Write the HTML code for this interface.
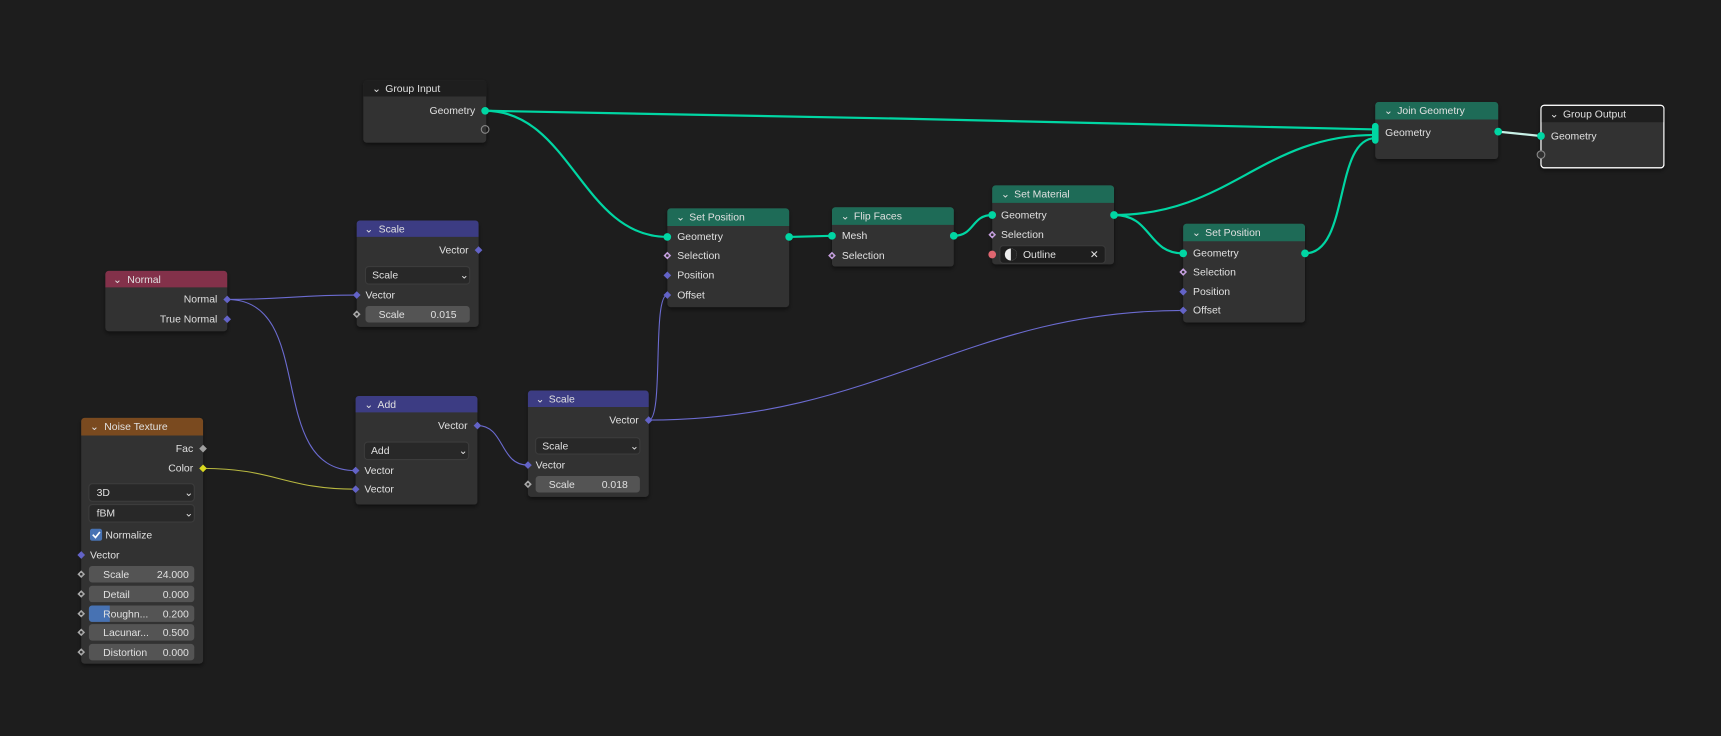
<!DOCTYPE html>
<html><head><meta charset="utf-8"><style>
html,body{margin:0;padding:0;background:#1d1d1d;overflow:hidden}
svg{display:block}
text{font-family:"Liberation Sans",sans-serif;font-size:9.5px;fill:#e0e0e0}
</style></head><body>
<svg width="1721" height="736" viewBox="0 0 1568 671" preserveAspectRatio="none" xmlns="http://www.w3.org/2000/svg">
<rect width="1568" height="671" fill="#1d1d1d"/>
<defs>
<filter id="sh" x="-10%" y="-10%" width="130%" height="130%"><feDropShadow dx="0" dy="2" stdDeviation="2" flood-color="#000" flood-opacity="0.5"/></filter>
</defs>

<!-- links -->
<g fill="none" stroke-width="2">
<path d="M442 101 C700 105,1000 112,1253 118" stroke="#00d6a3"/>
<path d="M442 101 C520 101,530 216,608 216" stroke="#00d6a3"/>
<path d="M719 216 L758 215" stroke="#00d6a3"/>
<path d="M869 215 C888 215,885 196,904 196" stroke="#00d6a3"/>
<path d="M1015 196 C1120 196,1150 123,1253 123" stroke="#00d6a3"/>
<path d="M1015 196 C1050 196,1045 231,1078 231" stroke="#00d6a3"/>
<path d="M1189 231 C1230 231,1215 126,1253 126" stroke="#00d6a3"/>
<path d="M1365 120 L1404 124" stroke="#c8f0e6"/>
</g>
<g fill="none" stroke-width="1">
<path d="M207 273 C260 273,270 269,325 269" stroke="#6b6bd0"/>
<path d="M207 273 C290 273,240 429,324 429" stroke="#6b6bd0"/>
<path d="M185 427 C250 427,260 446,324 446" stroke="#b8b840"/>
<path d="M435 388 C460 388,455 424,481 424" stroke="#6b6bd0"/>
<path d="M591 383 C605 383,594 269,608 269" stroke="#6b6bd0"/>
<path d="M591 383 C800 383,880 283,1078 283" stroke="#6b6bd0"/>
</g>

<!-- Group Input -->
<g filter="url(#sh)"><rect x="331" y="73" width="112" height="57" rx="3" fill="#303030"/></g>
<path d="M334 73 h106 a3 3 0 0 1 3 3 v12 h-112 v-12 a3 3 0 0 1 3 -3z" fill="#1e1e1e"/>
<text x="339" y="84">⌄</text><text x="351" y="84">Group Input</text>
<text x="433" y="104" text-anchor="end">Geometry</text>
<circle cx="442" cy="101" r="3.5" fill="#00d6a3"/>
<circle cx="442" cy="118" r="3.5" fill="none" stroke="#888" stroke-width="1"/>

<!-- Join Geometry -->
<g filter="url(#sh)"><rect x="1253" y="93" width="112" height="52" rx="3" fill="#303030"/></g>
<path d="M1256 93 h106 a3 3 0 0 1 3 3 v13 h-112 v-13 a3 3 0 0 1 3 -3z" fill="#1e6b57"/>
<text x="1261" y="104">⌄</text><text x="1273" y="104">Join Geometry</text>
<text x="1262" y="124">Geometry</text>
<rect x="1250" y="112" width="6" height="19" rx="3" fill="#00d6a3"/>
<circle cx="1365" cy="120" r="3.5" fill="#00d6a3"/>

<!-- Group Output -->
<g filter="url(#sh)"><rect x="1404" y="96" width="112" height="57" rx="3" fill="#303030" stroke="#fff" stroke-width="1"/></g>
<path d="M1407 96.5 h106 a3 3 0 0 1 3 3 v12 h-112 v-12 a3 3 0 0 1 3 -3z" fill="#1e1e1e"/>
<rect x="1404" y="96" width="112" height="57" rx="3" fill="none" stroke="#fff" stroke-width="1"/>
<text x="1412" y="107">⌄</text><text x="1424" y="107">Group Output</text>
<text x="1413" y="127">Geometry</text>
<circle cx="1404" cy="124" r="3.5" fill="#00d6a3"/>
<circle cx="1404" cy="141" r="3.5" fill="#303030" stroke="#888" stroke-width="1"/>

<!-- Set Position 1 -->
<g filter="url(#sh)"><rect x="608" y="190" width="111" height="90" rx="3" fill="#303030"/></g>
<path d="M611 190 h105 a3 3 0 0 1 3 3 v13 h-111 v-13 a3 3 0 0 1 3 -3z" fill="#1e6b57"/>
<text x="616" y="201">⌄</text><text x="628" y="201">Set Position</text>
<text x="617" y="219">Geometry</text><text x="617" y="236">Selection</text><text x="617" y="254">Position</text><text x="617" y="272">Offset</text>
<circle cx="608" cy="216" r="3.5" fill="#00d6a3"/><circle cx="719" cy="216" r="3.5" fill="#00d6a3"/>
<path d="M608 229.5l3.5 3.5-3.5 3.5-3.5-3.5z" fill="#c6a0e0"/><circle cx="608" cy="233" r="1.2" fill="#303030"/>
<path d="M608 247.5l3.5 3.5-3.5 3.5-3.5-3.5z" fill="#6363c7"/>
<path d="M608 265.5l3.5 3.5-3.5 3.5-3.5-3.5z" fill="#6363c7"/>

<!-- Flip Faces -->
<g filter="url(#sh)"><rect x="758" y="189" width="111" height="54" rx="3" fill="#303030"/></g>
<path d="M761 189 h105 a3 3 0 0 1 3 3 v13 h-111 v-13 a3 3 0 0 1 3 -3z" fill="#1e6b57"/>
<text x="766" y="200">⌄</text><text x="778" y="200">Flip Faces</text>
<text x="767" y="218">Mesh</text><text x="767" y="236">Selection</text>
<circle cx="758" cy="215" r="3.5" fill="#00d6a3"/><circle cx="869" cy="215" r="3.5" fill="#00d6a3"/>
<path d="M758 229.5l3.5 3.5-3.5 3.5-3.5-3.5z" fill="#c6a0e0"/><circle cx="758" cy="233" r="1.2" fill="#303030"/>

<!-- Set Material -->
<g filter="url(#sh)"><rect x="904" y="169" width="111" height="72" rx="3" fill="#303030"/></g>
<path d="M907 169 h105 a3 3 0 0 1 3 3 v13 h-111 v-13 a3 3 0 0 1 3 -3z" fill="#1e6b57"/>
<text x="912" y="180">⌄</text><text x="924" y="180">Set Material</text>
<text x="912" y="199">Geometry</text><text x="912" y="217">Selection</text>
<circle cx="904" cy="196" r="3.5" fill="#00d6a3"/><circle cx="1015" cy="196" r="3.5" fill="#00d6a3"/>
<path d="M904 210.5l3.5 3.5-3.5 3.5-3.5-3.5z" fill="#c6a0e0"/><circle cx="904" cy="214" r="1.2" fill="#303030"/>
<circle cx="904" cy="232" r="3.5" fill="#e06670"/>
<rect x="911" y="224" width="96" height="16" rx="3" fill="#1e1e1e" stroke="#3a3a3a"/>
<circle cx="921" cy="232" r="5.5" fill="#eee"/><path d="M921 226.5 a5.5 5.5 0 0 1 0 11z" fill="#222"/>
<text x="932" y="235">Outline</text><text x="993" y="235" fill="#bbb">✕</text>

<!-- Set Position 2 -->
<g filter="url(#sh)"><rect x="1078" y="204" width="111" height="90" rx="3" fill="#303030"/></g>
<path d="M1081 204 h105 a3 3 0 0 1 3 3 v13 h-111 v-13 a3 3 0 0 1 3 -3z" fill="#1e6b57"/>
<text x="1086" y="215">⌄</text><text x="1098" y="215">Set Position</text>
<text x="1087" y="234">Geometry</text><text x="1087" y="251">Selection</text><text x="1087" y="269">Position</text><text x="1087" y="286">Offset</text>
<circle cx="1078" cy="231" r="3.5" fill="#00d6a3"/><circle cx="1189" cy="231" r="3.5" fill="#00d6a3"/>
<path d="M1078 244.5l3.5 3.5-3.5 3.5-3.5-3.5z" fill="#c6a0e0"/><circle cx="1078" cy="248" r="1.2" fill="#303030"/>
<path d="M1078 262.5l3.5 3.5-3.5 3.5-3.5-3.5z" fill="#6363c7"/>
<path d="M1078 279.5l3.5 3.5-3.5 3.5-3.5-3.5z" fill="#6363c7"/>

<!-- Scale top -->
<g filter="url(#sh)"><rect x="325" y="201" width="111" height="97" rx="3" fill="#303030"/></g>
<path d="M328 201 h105 a3 3 0 0 1 3 3 v12 h-111 v-12 a3 3 0 0 1 3 -3z" fill="#3c3c83"/>
<text x="332" y="212">⌄</text><text x="345" y="212">Scale</text>
<text x="427" y="231" text-anchor="end">Vector</text>
<path d="M436 224.5l3.5 3.5-3.5 3.5-3.5-3.5z" fill="#6363c7"/>
<rect x="333" y="243" width="95" height="16" rx="3" fill="#282828" stroke="#3c3c3c"/>
<text x="339" y="254">Scale</text><text x="419" y="254">⌄</text>
<text x="333" y="272">Vector</text>
<path d="M325 265.5l3.5 3.5-3.5 3.5-3.5-3.5z" fill="#6363c7"/>
<rect x="333" y="279" width="95" height="15" rx="3" fill="#545454"/>
<text x="345" y="290">Scale</text><text x="416" y="290" text-anchor="end">0.015</text>
<path d="M325 283l3.5 3.5-3.5 3.5-3.5-3.5z" fill="#aaa"/><circle cx="325" cy="286.5" r="1.2" fill="#303030"/>

<!-- Normal -->
<g filter="url(#sh)"><rect x="96" y="247" width="111" height="55" rx="3" fill="#303030"/></g>
<path d="M99 247 h105 a3 3 0 0 1 3 3 v12 h-111 v-12 a3 3 0 0 1 3 -3z" fill="#83314a"/>
<text x="103" y="258">⌄</text><text x="116" y="258">Normal</text>
<text x="198" y="276" text-anchor="end">Normal</text><text x="198" y="294" text-anchor="end">True Normal</text>
<path d="M207 269.5l3.5 3.5-3.5 3.5-3.5-3.5z" fill="#6363c7"/>
<path d="M207 287.5l3.5 3.5-3.5 3.5-3.5-3.5z" fill="#6363c7"/>

<!-- Add -->
<g filter="url(#sh)"><rect x="324" y="361" width="111" height="99" rx="3" fill="#303030"/></g>
<path d="M327 361 h105 a3 3 0 0 1 3 3 v12 h-111 v-12 a3 3 0 0 1 3 -3z" fill="#3c3c83"/>
<text x="332" y="372">⌄</text><text x="344" y="372">Add</text>
<text x="426" y="391" text-anchor="end">Vector</text>
<path d="M435 384.5l3.5 3.5-3.5 3.5-3.5-3.5z" fill="#6363c7"/>
<rect x="332" y="403" width="95" height="16" rx="3" fill="#282828" stroke="#3c3c3c"/>
<text x="338" y="414">Add</text><text x="418" y="414">⌄</text>
<text x="332" y="432">Vector</text><text x="332" y="449">Vector</text>
<path d="M324 425.5l3.5 3.5-3.5 3.5-3.5-3.5z" fill="#6363c7"/>
<path d="M324 442.5l3.5 3.5-3.5 3.5-3.5-3.5z" fill="#6363c7"/>

<!-- Scale 2 -->
<g filter="url(#sh)"><rect x="481" y="356" width="110" height="97" rx="3" fill="#303030"/></g>
<path d="M484 356 h104 a3 3 0 0 1 3 3 v12 h-110 v-12 a3 3 0 0 1 3 -3z" fill="#3c3c83"/>
<text x="488" y="367">⌄</text><text x="500" y="367">Scale</text>
<text x="582" y="386" text-anchor="end">Vector</text>
<path d="M591 379.5l3.5 3.5-3.5 3.5-3.5-3.5z" fill="#6363c7"/>
<rect x="488" y="399" width="95" height="15" rx="3" fill="#282828" stroke="#3c3c3c"/>
<text x="494" y="410">Scale</text><text x="574" y="410">⌄</text>
<text x="488" y="427">Vector</text>
<path d="M481 420.5l3.5 3.5-3.5 3.5-3.5-3.5z" fill="#6363c7"/>
<rect x="488" y="434" width="95" height="15" rx="3" fill="#545454"/>
<text x="500" y="445">Scale</text><text x="572" y="445" text-anchor="end">0.018</text>
<path d="M481 438l3.5 3.5-3.5 3.5-3.5-3.5z" fill="#aaa"/><circle cx="481" cy="441.5" r="1.2" fill="#303030"/>

<!-- Noise Texture -->
<g filter="url(#sh)"><rect x="74" y="381" width="111" height="224" rx="3" fill="#303030"/></g>
<path d="M77 381 h105 a3 3 0 0 1 3 3 v13 h-111 v-13 a3 3 0 0 1 3 -3z" fill="#7a4a1f"/>
<text x="82" y="392">⌄</text><text x="95" y="392">Noise Texture</text>
<text x="176" y="412" text-anchor="end">Fac</text><text x="176" y="430" text-anchor="end">Color</text>
<path d="M185 405.5l3.5 3.5-3.5 3.5-3.5-3.5z" fill="#a0a0a0"/>
<path d="M185 423.5l3.5 3.5-3.5 3.5-3.5-3.5z" fill="#d8d820"/>
<rect x="81" y="441" width="96" height="16" rx="3" fill="#282828" stroke="#3c3c3c"/>
<text x="88" y="452">3D</text><text x="168" y="452">⌄</text>
<rect x="81" y="460" width="96" height="16" rx="3" fill="#282828" stroke="#3c3c3c"/>
<text x="88" y="471">fBM</text><text x="168" y="471">⌄</text>
<rect x="82" y="482" width="11" height="11" rx="2" fill="#4772b3"/>
<path d="M84.5 487.5l2.5 2.5 4-5" stroke="#fff" stroke-width="1.5" fill="none"/>
<text x="96" y="491">Normalize</text>
<text x="82" y="509">Vector</text>
<path d="M74 502.5l3.5 3.5-3.5 3.5-3.5-3.5z" fill="#6363c7"/>
<g>
<rect x="81" y="516" width="96" height="15" rx="3" fill="#545454"/>
<text x="94" y="527">Scale</text><text x="172" y="527" text-anchor="end">24.000</text>
<rect x="81" y="534" width="96" height="15" rx="3" fill="#545454"/>
<text x="94" y="545">Detail</text><text x="172" y="545" text-anchor="end">0.000</text>
<rect x="81" y="552" width="96" height="15" rx="3" fill="#545454"/>
<path d="M84 552 h16 v15 h-16 a3 3 0 0 1 -3 -3 v-9 a3 3 0 0 1 3 -3z" fill="#4772b3"/>
<text x="94" y="563">Roughn...</text><text x="172" y="563" text-anchor="end">0.200</text>
<rect x="81" y="569" width="96" height="15" rx="3" fill="#545454"/>
<text x="94" y="580">Lacunar...</text><text x="172" y="580" text-anchor="end">0.500</text>
<rect x="81" y="587" width="96" height="15" rx="3" fill="#545454"/>
<text x="94" y="598">Distortion</text><text x="172" y="598" text-anchor="end">0.000</text>
</g>
<g fill="#aaa">
<path d="M74 520l3.5 3.5-3.5 3.5-3.5-3.5z"/><path d="M74 538l3.5 3.5-3.5 3.5-3.5-3.5z"/>
<path d="M74 556l3.5 3.5-3.5 3.5-3.5-3.5z"/><path d="M74 573l3.5 3.5-3.5 3.5-3.5-3.5z"/>
<path d="M74 591l3.5 3.5-3.5 3.5-3.5-3.5z"/>
</g>
<g fill="#303030"><circle cx="74" cy="523.5" r="1.2"/><circle cx="74" cy="541.5" r="1.2"/><circle cx="74" cy="559.5" r="1.2"/><circle cx="74" cy="576.5" r="1.2"/><circle cx="74" cy="594.5" r="1.2"/></g>
</svg>
</body></html>
